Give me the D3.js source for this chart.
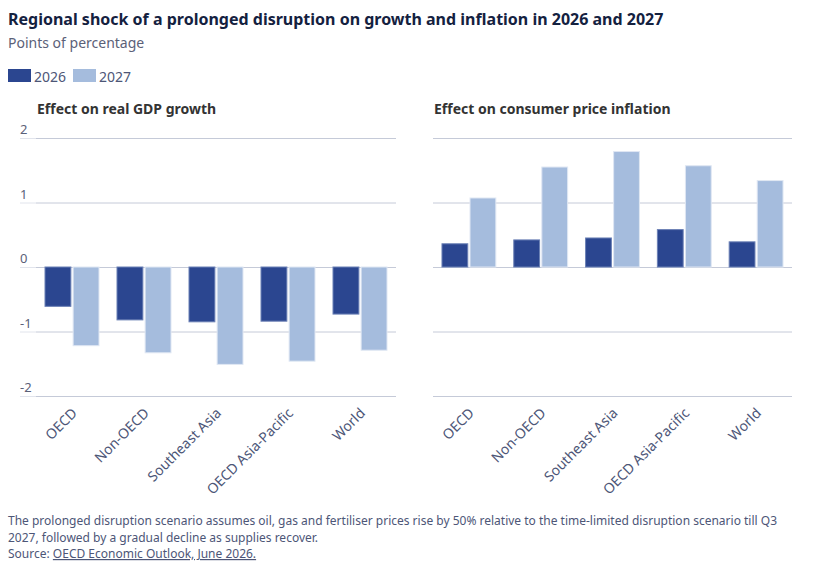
<!DOCTYPE html>
<html lang="en">
<head>
  <meta charset="UTF-8">
  <title>Regional shock of a prolonged disruption</title>
  <script src="https://d3js.org/d3.v7.min.js"></script>
  <style>
    body { margin: 0; background: #fff; font-family: "Noto Sans", sans-serif; }
    svg { display: block; }
    .title { font-size: 16px; font-weight: bold; fill: #14213f; }
    .subtitle { font-size: 14px; fill: #5b6178; }
    .legend text { font-size: 14px; fill: #4d5677; }
    .panel-title { font-size: 14px; font-weight: bold; fill: #333; }
    .tick-label { font-size: 13px; fill: #5b6178; }
    .cat-label { font-size: 14px; fill: #4d5677; }
    .grid { stroke: #c5cad8; stroke-width: 1; }
    .note { font-size: 12px; fill: #4d5677; }
  </style>
</head>
<body>
<script>
  const regions = ["OECD", "Non-OECD", "Southeast Asia", "OECD Asia-Pacific", "World"];
  const years = ["2026", "2027"];
  const gdp2026 = [-0.61, -0.82, -0.85, -0.84, -0.73];
  const gdp2027 = [-1.22, -1.33, -1.51, -1.46, -1.29];
  const cpi2026 = [0.36, 0.42, 0.45, 0.58, 0.39];
  const cpi2027 = [1.07, 1.55, 1.79, 1.57, 1.34];
  const yTicks = [-2, -1, 0, 1, 2];
  const colors = { "2026": "#2b4690", "2027": "#a5bcdd" };

  const width = 816, height = 573;
  const svg = d3.select("body").append("svg")
    .attr("width", width)
    .attr("height", height);

  svg.append("text").attr("class", "title").attr("x", 8).attr("y", 25)
    .text("Regional shock of a prolonged disruption on growth and inflation in 2026 and 2027");
  svg.append("text").attr("class", "subtitle").attr("x", 8).attr("y", 48)
    .text("Points of percentage");

  // legend
  const legend = svg.append("g").attr("class", "legend");
  const legendX = [8, 73];
  years.forEach((yr, i) => {
    legend.append("rect")
      .attr("x", legendX[i]).attr("y", 69)
      .attr("width", 23).attr("height", 13)
      .attr("fill", colors[yr]);
    legend.append("text")
      .attr("x", legendX[i] + 26).attr("y", 82)
      .text(yr);
  });

  const y = d3.scaleLinear().domain([-2, 2]).range([396, 138]);

  function panel(title, x0Range, v2026, v2027, showLabels) {
    const g = svg.append("g");
    const x0 = d3.scaleBand().domain(regions).range(x0Range)
      .paddingInner(0.25).paddingOuter(0.125);
    const x1 = d3.scaleBand().domain(years).range([0, x0.bandwidth()])
      .paddingInner(0.08);

    g.append("text").attr("class", "panel-title")
      .attr("x", x0Range[0] + 1).attr("y", 114).text(title);

    // gridlines
    g.selectAll("line.grid").data(yTicks).join("line")
      .attr("class", "grid")
      .attr("x1", x0Range[0]).attr("x2", x0Range[1])
      .attr("y1", d => y(d) + 0.5).attr("y2", d => y(d) + 0.5);

    if (showLabels) {
      g.selectAll("line.tickmark").data(yTicks).join("line")
        .attr("class", "tickmark")
        .attr("stroke", "#e1e4ec")
        .attr("x1", 20).attr("x2", x0Range[0])
        .attr("y1", d => y(d) + 0.5).attr("y2", d => y(d) + 0.5);
      g.selectAll("text.tick-label").data(yTicks).join("text")
        .attr("class", "tick-label")
        .attr("x", 20).attr("y", d => y(d) - 4)
        .text(d => d);
    }

    const rows = regions.map((r, i) => ({ region: r, values: [
      { year: "2026", value: v2026[i] },
      { year: "2027", value: v2027[i] }
    ] }));

    const groups = g.selectAll("g.group").data(rows).join("g")
      .attr("transform", d => `translate(${x0(d.region)},0)`);
    groups.selectAll("rect").data(d => d.values).join("rect")
      .attr("x", d => x1(d.year))
      .attr("width", x1.bandwidth())
      .attr("y", d => y(Math.max(0, d.value)))
      .attr("height", d => Math.abs(y(d.value) - y(0)))
      .attr("fill", d => colors[d.year])
      .attr("stroke", d => d.year === "2026" ? "#6b80b5" : "#dfe7f3")
      .attr("stroke-width", 1);

    g.selectAll("text.cat-label").data(regions).join("text")
      .attr("class", "cat-label")
      .attr("text-anchor", "end")
      .attr("transform", d => `translate(${x0(d) + x0.bandwidth() / 2 + 6},${414}) rotate(-45)`)
      .text(d => d);
  }

  panel("Effect on real GDP growth", [36, 396], gdp2026, gdp2027, true);
  panel("Effect on consumer price inflation", [433, 792], cpi2026, cpi2027, false);

  // notes
  const note = svg.append("text").attr("class", "note").attr("x", 8);
  note.append("tspan").attr("x", 8).attr("y", 525)
    .text("The prolonged disruption scenario assumes oil, gas and fertiliser prices rise by 50% relative to the time-limited disruption scenario till Q3");
  note.append("tspan").attr("x", 8).attr("y", 542)
    .text("2027, followed by a gradual decline as supplies recover.");
  note.append("tspan").attr("x", 8).attr("y", 558).text("Source: ");
  note.append("tspan").attr("text-decoration", "underline")
    .text("OECD Economic Outlook, June 2026.");
</script>
</body>
</html>
